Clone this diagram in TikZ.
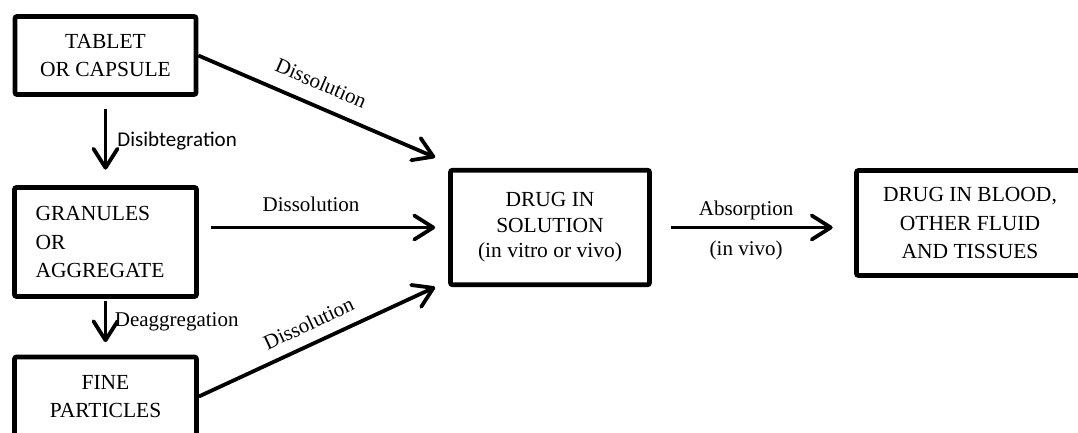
\documentclass[tikz,border=0pt]{standalone}
\usepackage{fontspec}
\setmainfont{Liberation Serif}
\newfontfamily\labelsans{Carlito}
\usepackage{tikz}
\usetikzlibrary{arrows.meta}

\begin{document}
\begin{tikzpicture}[x=1pt, y=-1pt,
    box/.style={draw, line width=4.7pt, rounded corners=2pt, inner sep=0pt, align=center, font=\fontsize{21.5}{28.5}\selectfont},
    arr/.style={line width=3.8pt, -{Straight Barb[length=19pt, width=24pt, round]}},
    lbl/.style={inner sep=2pt, font=\fontsize{21}{25}\selectfont}]
            \useasboundingbox (0,0) rectangle (1078,432);

            % Nodes
            \node[box, minimum width=181pt, minimum height=78pt] (n1) at (105.5,55.5) {TABLET\\OR CAPSULE};
            \node[box, minimum width=182pt, minimum height=109pt, align=left, text width=140pt] (n2) at (105.5,242) {GRANULES\\OR\\AGGREGATE};
            \node[box, minimum width=182pt, minimum height=79pt] (n3) at (105.5,396.5) {FINE\\PARTICLES};
            \node[box, minimum width=199pt, minimum height=114.5pt, font=\fontsize{21.5}{25.5}\selectfont] (n4) at (550,227.5) {DRUG IN\\SOLUTION\\(in vitro or vivo)};
            \node[box, minimum width=227pt, minimum height=105pt] (n5) at (970,223) {DRUG IN BLOOD,\\OTHER FLUID\\AND TISSUES};

            % Edges
            \draw[arr, shorten <=12.5pt, shorten >=15.5pt] (n1.south) -- (n2.north) node[midway, right=8pt, lbl, font=\labelsans\fontsize{21}{25}\selectfont] {Disibtegration};
            \draw[arr, shorten <=2.5pt, shorten >=12.5pt] (n2.south) -- (n3.north) node[pos=0.42, right=5.5pt, lbl] {Deaggregation};
            \draw[arr] (n1.east) -- ([xshift=-13pt, yshift=10.5pt]n4.north west) node[pos=0.48, sloped, above=12pt, lbl] {Dissolution};
            \draw[arr, shorten <=12pt, shorten >=13pt] (n2.east |- n4.west) -- (n4.west) node[pos=0.45, above=12pt, lbl] {Dissolution};
            \draw[arr] (n3.east) -- ([xshift=-13pt]n4.south west) node[midway, sloped, above=9pt, lbl] {Dissolution};
            \draw[arr, shorten <=19.5pt, shorten >=21.5pt] (n4.east) -- (n4.east -| n5.west) node[pos=0.466, above=4pt, lbl] {Absorption} node[pos=0.466, below=10pt, lbl] {(in vivo)};
        \end{tikzpicture}
\end{document}
